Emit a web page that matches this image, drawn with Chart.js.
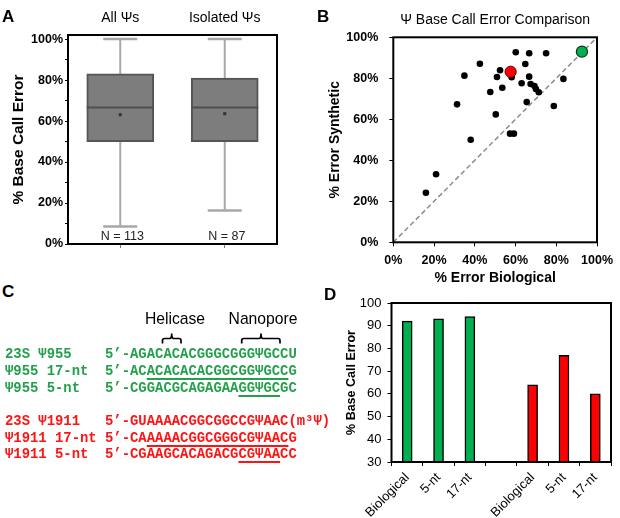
<!DOCTYPE html>
<html><head><meta charset="utf-8">
<script src="https://cdn.jsdelivr.net/npm/chart.js@4.4.1/dist/chart.umd.min.js"></script>
<style>
html,body{margin:0;padding:0;background:#fff;}
#wrap{position:relative;width:620px;height:518px;overflow:hidden;font-family:"Liberation Sans",Arial,sans-serif;}
canvas{position:absolute;}
.plbl{position:absolute;font-weight:bold;font-size:17px;line-height:1;color:#000;}
.seq{position:absolute;left:5px;font-family:"Liberation Mono","Courier New",monospace;font-weight:bold;font-size:13.9px;white-space:pre;line-height:16px;}
.g{color:#24a04c;}
.r{color:#ff1414;}
.u{text-decoration:underline;text-decoration-thickness:1.6px;text-underline-offset:2.5px;}
.hd{position:absolute;font-size:15.7px;line-height:1;color:#000;transform:translateX(-50%);white-space:nowrap;}
svg{position:absolute;left:0;top:0;}
</style>
</head><body>
<div id="wrap">
<canvas id="cA" width="310" height="260" style="left:0;top:0"></canvas>
<canvas id="cB" width="310" height="290" style="left:310px;top:0"></canvas>
<canvas id="cD" width="310" height="233" style="left:310px;top:285px"></canvas>

<div class="plbl" style="left:2px;top:7.5px">A</div>
<div class="plbl" style="left:317px;top:7.5px">B</div>
<div class="plbl" style="left:2px;top:283px">C</div>
<div class="plbl" style="left:324px;top:286px">D</div>

<div class="hd" style="left:175px;top:311px">Helicase</div>
<div class="hd" style="left:263px;top:311px">Nanopore</div>
<svg width="310" height="518">
<path d="M162.5,343.5 L162.5,340.5 Q162.5,338.5 164.5,338.5 L169.7,338.5 Q171.7,338.5 171.7,333.5 Q171.7,338.5 173.7,338.5 L179,338.5 Q181,338.5 181,340.5 L181,343.5" fill="none" stroke="#000" stroke-width="1.7"/>
<path d="M241.7,343.5 L241.7,340.5 Q241.7,338.5 243.7,338.5 L259,338.5 Q261,338.5 261,333.5 Q261,338.5 263,338.5 L278,338.5 Q280,338.5 280,340.5 L280,343.5" fill="none" stroke="#000" stroke-width="1.7"/>
</svg>

<div class="seq g" style="top:346px">23S Ψ955    5’-AGACACACGGGCGGGΨGCCU</div>
<div class="seq g" style="top:363px">Ψ955 17-nt  5’-AC<span class="u">ACACACACGGCGGΨGCC</span>G</div>
<div class="seq g" style="top:380px">Ψ955 5-nt   5’-CGGACGCAGAGAA<span class="u">GGΨGC</span>GC</div>
<div class="seq r" style="top:413px">23S Ψ1911   5’-GUAAAACGGCGGCCGΨAAC(m³Ψ)</div>
<div class="seq r" style="top:429.5px">Ψ1911 17-nt 5’-CA<span class="u">AAAACGGCGGGCGΨAAC</span>G</div>
<div class="seq r" style="top:446px">Ψ1911 5-nt  5’-CGAAGCACAGACG<span class="u">CGΨAA</span>CC</div>
</div>

<script>
// ---------- Panel A data (box plot) ----------
const boxCategories = ['All Ψs', 'Isolated Ψs'];
const boxN = ['N = 113', 'N = 87'];
const boxQ1 = [50, 50];
const boxQ3 = [83, 81];
const boxMedian = [66.6, 66.6];
const boxMean = [63.1, 63.6];
const whiskerLow = [8.6, 16.4];
const whiskerHigh = [100, 100];
const pctTicks = [0, 20, 40, 60, 80, 100];

// ---------- Panel B data (scatter) ----------
const bioError = [16.0, 21.0, 31.3, 34.9, 38.0, 42.5, 47.6, 50.3, 50.9, 52.4, 53.5, 58.1, 57.3, 59.2,
                  60.1, 63.0, 64.8, 65.5, 66.7, 66.7, 67.4, 69.3, 70.0, 71.4, 75.0, 83.5, 78.8];
const synError = [24.2, 33.2, 67.3, 81.3, 50.0, 87.1, 73.3, 62.4, 80.6, 83.9, 75.4, 80.5, 53.0, 53.0,
                  92.7, 77.6, 87.0, 68.4, 92.2, 80.8, 77.2, 76.2, 74.8, 73.2, 92.2, 79.7, 66.5];
const redBio = [57.6];
const redSyn = [83.2];
const greenBio = [92.6];
const greenSyn = [93.0];
const diagonal = [0, 100];

// ---------- Panel D data (bars) ----------
const dCategories = ['Biological', '5-nt', '17-nt', '', 'Biological', '5-nt', '17-nt'];
const dGreen = [92, 93, 94, null, null, null, null];
const dRed = [null, null, null, null, 64, 77, 60];

Chart.defaults.font.family = '"Liberation Sans", Arial, sans-serif';
Chart.defaults.color = '#000';

const framePlugin = {
  id: 'frame',
  afterDraw(chart) {
    const {ctx, chartArea: a} = chart;
    ctx.save();
    ctx.strokeStyle = '#000';
    ctx.lineWidth = 2;
    ctx.strokeRect(a.left, a.top, a.right - a.left, a.bottom - a.top);
    ctx.restore();
  }
};

const boxPlugin = {
  id: 'boxExtras',
  beforeDatasetsDraw(chart) {
    const {ctx, scales: {x, y}} = chart;
    ctx.save();
    ctx.strokeStyle = '#a8a8a8';
    ctx.lineWidth = 2;
    boxCategories.forEach((c, i) => {
      const cx = x.getPixelForValue(i);
      ctx.beginPath();
      ctx.moveTo(cx, y.getPixelForValue(whiskerLow[i]));
      ctx.lineTo(cx, y.getPixelForValue(boxQ1[i]));
      ctx.moveTo(cx, y.getPixelForValue(boxQ3[i]));
      ctx.lineTo(cx, y.getPixelForValue(whiskerHigh[i]));
      ctx.stroke();
      ctx.lineWidth = 2.5;
      ctx.beginPath();
      [whiskerLow[i], whiskerHigh[i]].forEach(v => {
        const py = y.getPixelForValue(v);
        ctx.moveTo(cx - 17, py); ctx.lineTo(cx + 17, py);
      });
      ctx.stroke();
      ctx.lineWidth = 2;
    });
    ctx.restore();
  },
  afterDatasetsDraw(chart) {
    const {ctx, scales: {x, y}, chartArea} = chart;
    const meta = chart.getDatasetMeta(0);
    ctx.save();
    boxCategories.forEach((c, i) => {
      const cx = x.getPixelForValue(i);
      const half = meta.data[i].width / 2;
      const my = y.getPixelForValue(boxMedian[i]);
      ctx.strokeStyle = '#4f4f4f';
      ctx.lineWidth = 2;
      ctx.beginPath(); ctx.moveTo(cx - half, my); ctx.lineTo(cx + half, my); ctx.stroke();
      const mny = y.getPixelForValue(boxMean[i]);
      ctx.fillStyle = '#333';
      ctx.fillRect(cx - 1.5, mny - 1.5, 3, 3);
      ctx.fillStyle = '#222';
      ctx.font = '12.5px "Liberation Sans", Arial, sans-serif';
      ctx.textAlign = 'center';
      ctx.textBaseline = 'middle';
      ctx.fillText(boxN[i], cx + 2, chartArea.bottom - 7);
    });
    ctx.restore();
  }
};

new Chart(document.getElementById('cA'), {
  type: 'bar',
  data: {
    labels: boxCategories,
    datasets: [{
      data: boxCategories.map((c, i) => [boxQ1[i], boxQ3[i]]),
      backgroundColor: '#7d7d7d',
      borderColor: '#555',
      borderWidth: 2,
      borderSkipped: false,
      barThickness: 67
    }]
  },
  options: {
    responsive: false, animation: false,
    layout: {padding: {left: 0, right: 33, top: 0, bottom: 0}},
    plugins: {legend: {display: false}, tooltip: {enabled: false}},
    scales: {
      x: {
        position: 'bottom', offset: true,
        grid: {offset: false, drawOnChartArea: false, drawTicks: true, tickLength: 4, color: '#777'},
        border: {display: false},
        ticks: {display: false},
        afterFit: s => { s.height = 16; }
      },
      x2: {
        type: 'category', labels: boxCategories, position: 'top', offset: true,
        grid: {display: false, drawTicks: false},
        border: {display: false},
        ticks: {font: {size: 14}, color: '#000', padding: 8},
        afterFit: s => { s.height = 35; }
      },
      y: {
        min: 0, max: 102,
        ticks: {stepSize: 10, includeBounds: false, callback: v => pctTicks.includes(v) ? v + '%' : '',
                font: {size: 12.5, weight: 'bold'}, color: '#000', padding: 2},
        grid: {drawOnChartArea: false, tickLength: 3, color: '#000'},
        border: {display: false},
        title: {display: true, text: '% Base Call Error', font: {size: 15.5, weight: 'bold'}, color: '#000', padding: {top: 9, bottom: 0}},
        afterFit: s => { s.width = 68; }
      }
    }
  },
  plugins: [boxPlugin, framePlugin]
});

new Chart(document.getElementById('cB'), {
  type: 'scatter',
  data: {
    datasets: [
      {type: 'line', data: diagonal.map(v => ({x: v, y: v})), borderColor: '#8c8c8c', borderDash: [5, 3],
       borderWidth: 1.5, pointRadius: 0, order: 3},
      {data: bioError.map((v, i) => ({x: v, y: synError[i]})), backgroundColor: '#000', borderColor: '#000',
       pointRadius: 3.3, borderWidth: 0, order: 2},
      {data: redBio.map((v, i) => ({x: v, y: redSyn[i]})), backgroundColor: '#ff0000', borderColor: '#5a0000',
       borderWidth: 1, pointRadius: 5.6, order: 1},
      {data: greenBio.map((v, i) => ({x: v, y: greenSyn[i]})), backgroundColor: '#00b050', borderColor: '#1a2e1a',
       borderWidth: 1.2, pointRadius: 5.6, order: 1}
    ]
  },
  options: {
    responsive: false, animation: false,
    layout: {padding: {left: 0, right: 17, top: 0, bottom: 0}},
    plugins: {
      legend: {display: false}, tooltip: {enabled: false},
      title: {display: true, text: 'Ψ Base Call Error Comparison', font: {size: 14, weight: 'normal'}, color: '#000',
              padding: {top: 11.6, bottom: 8.9}, fullSize: false}
    },
    scales: {
      x: {
        type: 'linear', min: 0, max: 100,
        ticks: {stepSize: 20, callback: v => v + '%', font: {size: 12.5, weight: 'bold'}, color: '#000', padding: 7},
        grid: {drawOnChartArea: false, tickLength: 4, color: '#000'},
        border: {display: false},
        title: {display: true, text: '% Error Biological', font: {size: 14, weight: 'bold'}, color: '#000', padding: {top: 0, bottom: 3.3}},
        afterFit: s => { s.height = 47.7; }
      },
      y: {
        type: 'linear', min: 0, max: 100,
        ticks: {stepSize: 20, callback: v => v + '%', font: {size: 12.5, weight: 'bold'}, color: '#000', padding: 11},
        grid: {drawOnChartArea: false, tickLength: 4, color: '#000'},
        border: {display: false},
        title: {display: true, text: '% Error Synthetic', font: {size: 14, weight: 'bold'}, color: '#000', padding: {top: 16.6, bottom: 0}},
        afterFit: s => { s.width = 83.3; }
      }
    }
  },
  plugins: [framePlugin]
});

new Chart(document.getElementById('cD'), {
  type: 'bar',
  data: {
    labels: dCategories,
    datasets: [
      {data: dGreen, backgroundColor: '#00b050', borderColor: '#000', borderWidth: 1.5, barThickness: 10, grouped: false},
      {data: dRed, backgroundColor: '#ff0000', borderColor: '#000', borderWidth: 1.5, barThickness: 10, grouped: false}
    ]
  },
  options: {
    responsive: false, animation: false,
    layout: {padding: {left: 0, right: 9, top: 18, bottom: 0}},
    plugins: {legend: {display: false}, tooltip: {enabled: false}},
    scales: {
      x: {
        offset: true,
        grid: {offset: true, drawOnChartArea: false, tickLength: 4, color: '#000'},
        border: {display: false},
        ticks: {autoSkip: false, maxRotation: 45, minRotation: 45, font: {size: 13}, color: '#000', padding: 4},
        afterFit: s => { s.height = 56; }
      },
      y: {
        min: 30, max: 100,
        ticks: {stepSize: 10, font: {size: 13}, color: '#000', padding: 6},
        grid: {drawOnChartArea: false, tickLength: 4, color: '#000'},
        border: {display: false},
        title: {display: true, text: '% Base Call Error', font: {size: 12.5, weight: 'bold'}, color: '#000', padding: {top: 34.5, bottom: 0}},
        afterFit: s => { s.width = 81.5; }
      }
    }
  },
  plugins: [framePlugin]
});
</script>
</body></html>
